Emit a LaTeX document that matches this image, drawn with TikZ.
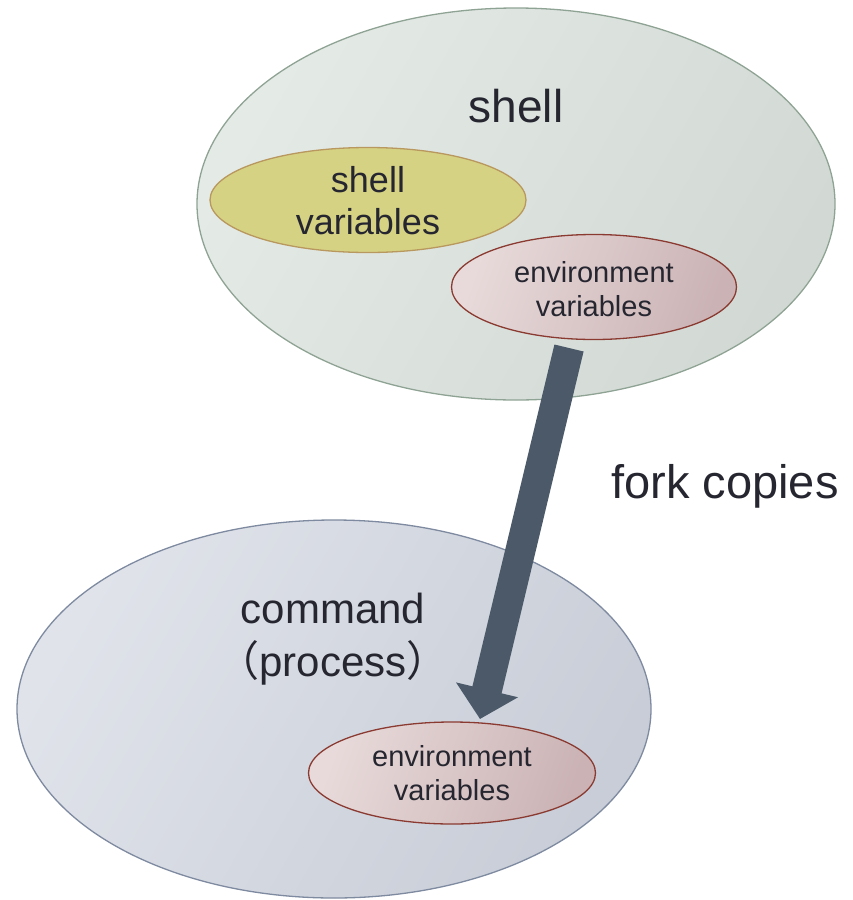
\documentclass[tikz,border=0pt]{standalone}
\usepackage{fontspec}
\setmainfont{Liberation Sans}
\newfontfamily\cjk{Noto Sans CJK SC}
\usetikzlibrary{shapes.geometric,arrows.meta}

\definecolor{txt}{HTML}{262630}
\definecolor{shellA}{HTML}{E4EAE6}
\definecolor{shellB}{HTML}{D2D9D4}
\definecolor{shellLine}{HTML}{8FA394}
\definecolor{svFill}{HTML}{D6D283}
\definecolor{svLine}{HTML}{B8985E}
\definecolor{envA}{HTML}{E8DADA}
\definecolor{envB}{HTML}{CBB3B5}
\definecolor{envLine}{HTML}{8A3A30}
\definecolor{cmdA}{HTML}{E0E3EA}
\definecolor{cmdB}{HTML}{C8CDD7}
\definecolor{cmdLine}{HTML}{7E8AA0}
\definecolor{forkArrow}{HTML}{4B5969}

\tikzset{
  region/.style={ellipse, inner sep=0pt, line width=1.3pt},
  shellregion/.style={region, draw=shellLine, left color=shellA, right color=shellB, shading angle=60},
  cmdregion/.style={region, draw=cmdLine, left color=cmdA, right color=cmdB, shading angle=60},
  shellvars/.style={region, draw=svLine, fill=svFill},
  envvars/.style={region, draw=envLine, left color=envA, right color=envB, shading angle=70},
  lbl/.style={text=txt, align=center, inner sep=0pt},
}

\begin{document}
\begin{tikzpicture}[x=1pt, y=-1pt]
\useasboundingbox (0,0) rectangle (852,900);

% the shell and its variables
\node[shellregion, minimum width=638pt, minimum height=392pt] (shell) at (516,204) {};
\node[shellvars, minimum width=316pt, minimum height=105pt] (svars) at (368,200) {};
\node[envvars, minimum width=285pt, minimum height=105pt] (envtop) at (594,287) {};

% the forked command
\node[cmdregion, minimum width=634pt, minimum height=378pt] (cmd) at (334,709) {};
\node[envvars, minimum width=287pt, minimum height=102pt] (envbot) at (452,773) {};

% labels
\node[lbl, font=\fontsize{46pt}{54pt}\selectfont] (shelltxt) at (516,106) {shell};
\node[lbl, font=\fontsize{36pt}{42pt}\selectfont] (svtxt) at (368,201) {shell\\variables};
\node[lbl, font=\fontsize{29pt}{34pt}\selectfont] (envtoptxt) at (594,289) {environment\\variables};
\node[lbl, font=\fontsize{42pt}{53pt}\selectfont] (cmdtxt) at (333,639) {command\\{\cjk （}process{\cjk ）}};
\node[lbl, font=\fontsize{29pt}{34pt}\selectfont] (envbottxt) at (452,773) {environment\\variables};
\node[lbl, font=\fontsize{47pt}{54pt}\selectfont] (forktxt) at (725,486) {fork copies};

% fork arrow from the shell's environment to the command's
\coordinate (forkfrom) at (569,348);
\coordinate (forkto) at (480,719);
\draw[forkArrow, line width=30pt, -{Triangle[length=30pt, width=62pt]}] (forkfrom) -- (forkto);
\end{tikzpicture}
\end{document}
